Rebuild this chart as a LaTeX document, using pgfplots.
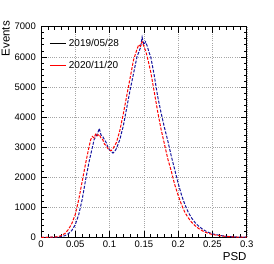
\documentclass[border=0pt]{standalone}
\usepackage{pgfplots}
\pgfplotsset{compat=1.18}
\usepackage{fontspec}
\setmainfont{Liberation Sans}
\definecolor{rootblue}{rgb}{0.08,0.08,0.62}
\begin{document}
\begin{tikzpicture}
\begin{axis}[
  name=ax,
  scale only axis,
  width=205.7pt, height=210.6pt,
  xmin=0, xmax=0.3, ymin=0, ymax=7000,
  xtick={0,0.05,0.1,0.15,0.2,0.25,0.3},
  xticklabels={0,0.05,0.1,0.15,0.2,0.25,0.3},
  ytick={0,1000,2000,3000,4000,5000,6000,7000},
  yticklabels={0,1000,2000,3000,4000,5000,6000,7000},
  minor tick num=4,
  tick align=inside,
  tick pos=both,
  major tick length=6pt, minor tick length=3pt,
  tick style={black, line width=0.5pt},
  axis line style={line width=0.6pt},
  grid=major,
  major grid style={gray!70, dash pattern=on 1pt off 1.2pt, line width=0.4pt},
  tick label style={font=\fontsize{9.5}{10}\selectfont, inner sep=0pt},
  xticklabel style={anchor=north, yshift=-3.5pt},
  yticklabel style={anchor=east, xshift=-5pt},
  /pgf/number format/assume math mode=true,
  scaled ticks=false,
  xlabel={PSD},
  ylabel={Events},
  label style={font=\fontsize{11.5}{12}\selectfont, inner sep=0pt},
  xlabel style={at={(axis description cs:1,-0.07)}, anchor=north east},
  ylabel style={at={(axis description cs:-0.1507,1.027)}, anchor=south east, rotate=0},
  legend style={draw=none, fill=none, at={(axis description cs:0.04,0.94)}, anchor=north west,
    font=\fontsize{10}{11}\selectfont, row sep=13pt, inner sep=0pt,
    nodes={inner xsep=2.5pt, inner ysep=0pt}},
  legend cell align=left,
  legend image code/.code={\draw[#1] (0pt,0pt) -- (16pt,0pt);},
]
\addplot[rootblue, line width=1pt, dash pattern=on 3pt off 1.5pt,
  legend image post style={black, solid}] coordinates {
(0,0) (0.01,0) (0.02,3) (0.025,10) (0.03,25) (0.035,55) (0.04,120) (0.045,230) (0.05,420)
(0.055,750) (0.06,1250) (0.065,1900) (0.07,2500) (0.075,3000) (0.0775,3250) (0.08,3350)
(0.0825,3450) (0.085,3620) (0.0875,3400) (0.09,3350) (0.0925,3250) (0.095,3150) (0.0975,3000)
(0.1,2900) (0.1025,2850) (0.105,2800) (0.1075,2850) (0.11,2950) (0.115,3250) (0.12,3700)
(0.125,4300) (0.13,4900) (0.135,5450) (0.14,6000) (0.1425,6150) (0.145,6300) (0.1475,6650)
(0.15,6400) (0.1525,6500) (0.155,6350) (0.1575,6150) (0.16,6000) (0.165,5400) (0.17,4700)
(0.175,4150) (0.18,3650) (0.185,3200) (0.19,2700) (0.195,2250) (0.2,1800) (0.205,1400)
(0.21,1080) (0.215,820) (0.22,630) (0.225,480) (0.23,370) (0.235,280) (0.24,210) (0.245,155)
(0.25,115) (0.26,65) (0.27,32) (0.28,14) (0.29,6) (0.3,2)
};
\addlegendentry{2019/05/28}
\addplot[red, line width=1pt, dash pattern=on 3pt off 1.5pt,
  legend image post style={red, solid}] coordinates {
(0,0) (0.01,0) (0.02,8) (0.025,25) (0.03,60) (0.035,130) (0.04,260) (0.045,460) (0.05,760)
(0.055,1250) (0.06,1850) (0.065,2450) (0.07,3000) (0.0725,3250) (0.075,3350) (0.0775,3300)
(0.08,3450) (0.0825,3380) (0.085,3420) (0.0875,3300) (0.09,3250) (0.0925,3100) (0.095,3050)
(0.0975,2950) (0.1,2900) (0.1025,2880) (0.105,2950) (0.11,3150) (0.115,3550) (0.12,4100)
(0.125,4700) (0.13,5300) (0.135,5900) (0.14,6250) (0.1425,6400) (0.145,6350) (0.1475,6500)
(0.15,6350) (0.1525,6200) (0.155,6000) (0.16,5500) (0.165,4850) (0.17,4200) (0.175,3600)
(0.18,3100) (0.185,2600) (0.19,2200) (0.195,1750) (0.2,1400) (0.205,1080) (0.21,820)
(0.215,640) (0.22,490) (0.225,380) (0.23,290) (0.235,220) (0.24,165) (0.245,125) (0.25,95)
(0.26,55) (0.27,28) (0.28,12) (0.29,5) (0.3,2)
};
\addlegendentry{2020/11/20}
\end{axis}
\path ([xshift=-41pt,yshift=-26.7pt]ax.south west) rectangle ([xshift=27.3pt,yshift=26.7pt]ax.north east);
\end{tikzpicture}
\end{document}
